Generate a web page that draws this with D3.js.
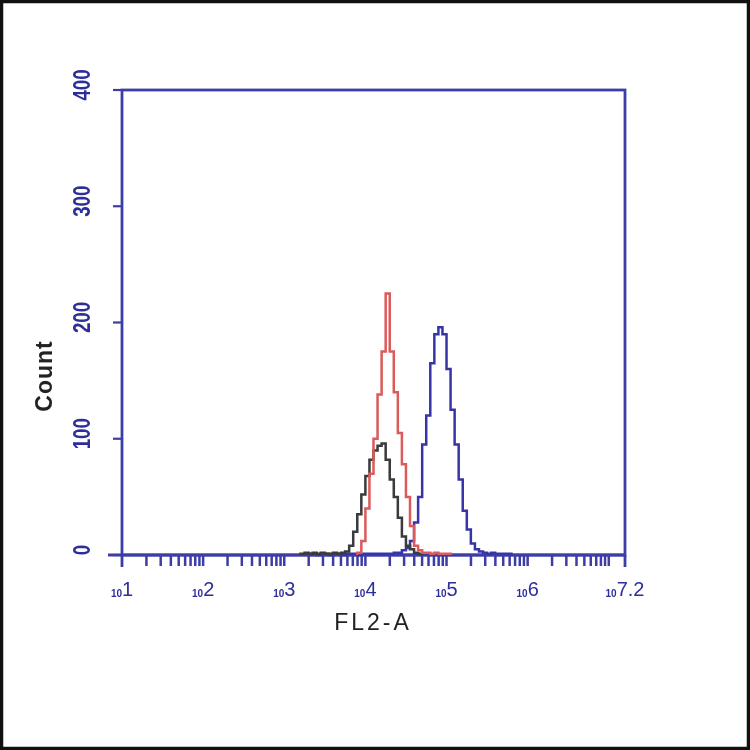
<!DOCTYPE html>
<html><head><meta charset="utf-8">
<script src="https://cdn.jsdelivr.net/npm/d3@7"></script>
<style>html,body{margin:0;padding:0;background:#fff}</style>
</head><body>
<svg id="chart" width="750" height="750"></svg>
<script>
// Histogram bins: left edge of first bin (log10 units) and bin width
const binStart = 3.0;
const binWidth = 0.05;
// Counts per bin (bin i covers binStart + i*binWidth)
const blackCounts = [0,0,0,0,1,2,1,2,1,2,1,1,2,1,2,3,8,20,35,52,68,82,90,94,96,82,65,50,32,16,8,5,2,1,0,0,0,0,0,0];
const redCounts   = [0,0,0,0,0,0,0,0,0,0,0,0,0,0,0,0,0,0,2,12,40,70,100,138,175,225,175,140,105,78,50,25,8,4,2,2,1,2,1,1,1,0];
const blueCounts  = [0,0,0,0,0,0,1,1,0,1,1,0,1,1,0,1,1,1,0,1,1,1,1,1,1,1,1,2,2,4,6,12,28,50,95,120,165,190,196,190,160,125,95,65,38,22,10,5,3,2,1,2,1,1,1,1,0];
const yTicks = [0,100,200,300,400];
const xDecades = [1,2,3,4,5,6];
const xEnd = 7.2;
const xLabel = "FL2-A";
const yLabel = "Count";

const svg = d3.select("#chart");
const blue = "#3d3da6", txtBlue = "#2e2e9a";
const defs = svg.append("defs");
defs.append("filter").attr("id","soft").append("feGaussianBlur").attr("stdDeviation",0.6);

svg.append("rect").attr("x",1.5).attr("y",1.5).attr("width",747).attr("height",747)
  .attr("fill","#fff").attr("stroke","#111").attr("stroke-width",3.5);

const g = svg.append("g").attr("filter","url(#soft)");
const x = d3.scaleLinear().domain([1, xEnd]).range([122, 625]);
const y = d3.scaleLinear().domain([0, 400]).range([555, 90]);

// frame
g.append("rect").attr("x",x(1)).attr("y",y(400)).attr("width",x(xEnd)-x(1)).attr("height",y(0)-y(400))
  .attr("fill","none").attr("stroke",blue).attr("stroke-width",2.8);
g.append("line").attr("x1",108).attr("x2",x(xEnd)).attr("y1",y(0)).attr("y2",y(0)).attr("stroke",blue).attr("stroke-width",2.8);
[1, xEnd].forEach(v => g.append("line").attr("x1",x(v)).attr("x2",x(v)).attr("y1",y(0)).attr("y2",567).attr("stroke",blue).attr("stroke-width",2.8));

// y ticks
yTicks.forEach(t => {
  g.append("line").attr("x1",113).attr("x2",x(1)).attr("y1",y(t)).attr("y2",y(t)).attr("stroke",blue).attr("stroke-width",2.2);
  g.append("text").attr("transform",`translate(90,${y(t)-5}) rotate(-90) scale(0.78,1)`)
    .attr("text-anchor","middle").attr("font-family","Liberation Sans, Arial, sans-serif")
    .attr("font-weight","bold").attr("font-size",24).attr("fill",txtBlue).text(t);
});

// x ticks (log minor ticks)
const minor = [];
xDecades.forEach(d => { for (let k=1;k<=9;k++) minor.push(d + Math.log10(k)); });
minor.push(7);
minor.filter(v => v > 1 && v <= xEnd).forEach(v => {
  g.append("line").attr("x1",x(v)).attr("x2",x(v)).attr("y1",556).attr("y2",566).attr("stroke",blue).attr("stroke-width",2.5);
});

// x labels
const xl = xDecades.map(d => ({v:d, e:String(d)})).concat([{v:xEnd, e:String(xEnd)}]);
xl.forEach(o => {
  const t = g.append("text").attr("x",x(o.v)).attr("y",596).attr("text-anchor","middle")
    .attr("font-family","Liberation Sans, Arial, sans-serif").attr("fill",txtBlue);
  t.append("tspan").attr("font-size",10).attr("font-weight","bold").attr("dy",1).text("10");
  t.append("tspan").attr("font-size",20).attr("dy",-1).text(o.e);
});

// histograms
function histPoints(counts){
  let first = counts.findIndex(c => c > 0);
  let last = counts.length - 1 - [...counts].reverse().findIndex(c => c > 0);
  const pts = [[binStart + first*binWidth, 0]];
  for (let i=first;i<=last;i++){
    pts.push([binStart + i*binWidth, counts[i]]);
    pts.push([binStart + (i+1)*binWidth, counts[i]]);
  }
  pts.push([binStart + (last+1)*binWidth, 0]);
  return pts;
}
const line = d3.line().x(d => x(d[0])).y(d => y(d[1]));
[[blueCounts, "#3636a8"],[blackCounts, "#3a3a3a"],[redCounts, "#dc5a5a"]].forEach(([c,col]) => {
  g.append("path").attr("d", line(histPoints(c))).attr("fill","none").attr("stroke",col).attr("stroke-width",2.5);
});

// axis titles
g.append("text").attr("x",373).attr("y",630).attr("text-anchor","middle")
  .attr("font-family","Liberation Sans, Arial, sans-serif").attr("font-size",23).attr("letter-spacing",3)
  .attr("fill","#222").text(xLabel);
g.append("text").attr("transform","translate(52,376) rotate(-90)").attr("text-anchor","middle")
  .attr("font-family","Liberation Sans, Arial, sans-serif").attr("font-weight","bold").attr("font-size",23)
  .attr("letter-spacing",1).attr("fill","#222").text(yLabel);
</script>
</body></html>
